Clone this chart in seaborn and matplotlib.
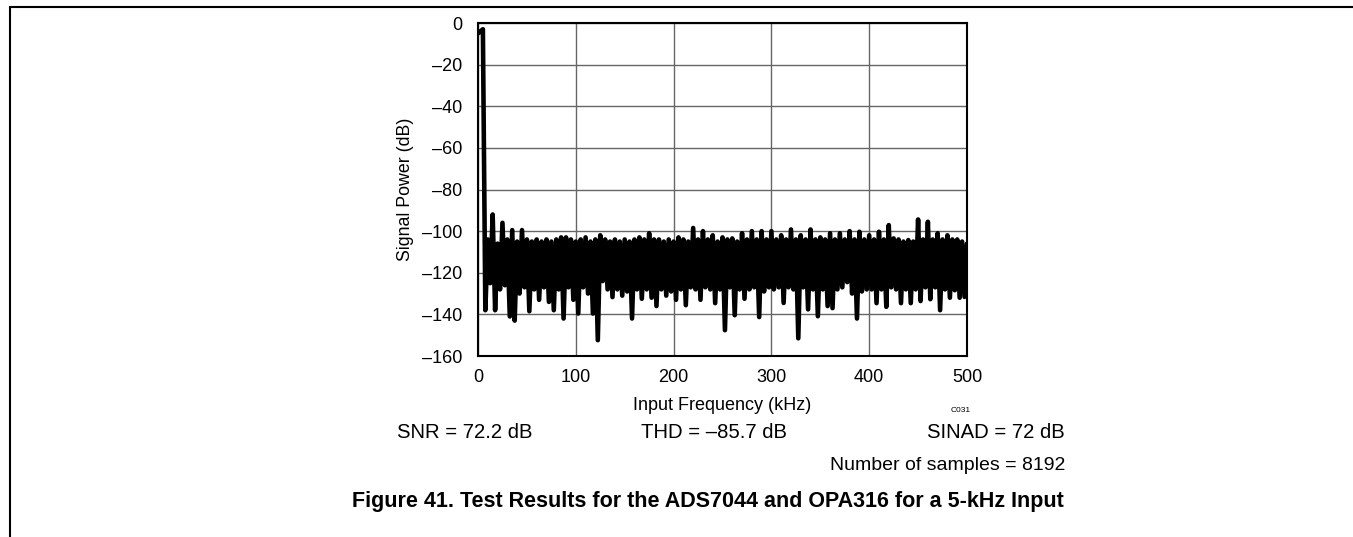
import numpy as np
import pandas as pd
import matplotlib
matplotlib.use('Agg')
import matplotlib.pyplot as plt
from matplotlib.lines import Line2D
import seaborn as sns

# FFT bins, one value every 2.5 kHz (0 ... 500 kHz)
freq_step_khz = 2.5
power_db = [
    -5, -4, -3, -138, -104, -125, -92, -138, -106, -128,
    -96, -126, -104, -141, -99.5, -143, -105, -130, -99.5, -127,
    -104, -138.5, -105, -128, -104, -133, -105, -127, -104, -134,
    -105, -138, -104, -128, -103, -142, -103, -127, -104, -133,
    -105, -139.6, -104, -127, -103, -130, -105, -139.6, -104, -152.4,
    -102, -124, -104, -128, -105, -131.7, -104, -128, -105, -131,
    -104, -129, -105, -142, -104, -128, -103, -132.5, -104, -128,
    -101, -132, -104, -136, -104, -128, -105, -131, -104, -129,
    -105, -133, -103, -128, -104, -135.6, -105, -127, -98.5, -128,
    -104, -133, -100, -127, -104, -128, -102, -134.6, -105, -128,
    -103, -147.6, -104, -127, -103.5, -140.4, -105, -128, -101, -132.5,
    -104, -128, -100, -127, -104, -141.3, -100, -129, -104, -127,
    -100, -128, -104, -127, -102, -134.5, -104, -127, -99.2, -128,
    -104, -151.5, -102, -127, -104, -137.6, -99.2, -128, -104, -140.9,
    -103, -128, -104, -136, -101, -137, -104, -128, -101, -127,
    -104, -124.5, -100, -130, -104, -142, -100.3, -129, -104, -128,
    -102, -128, -104, -134.6, -100.3, -128, -104, -136.4, -97.1, -127,
    -103.5, -128, -104, -134.6, -105, -128, -104.3, -134.6, -105, -128,
    -94.4, -133.6, -104, -127, -95.5, -132.7, -104, -127, -101, -138,
    -104, -128, -102, -132, -104, -128.4, -104, -132, -105, -131.6,
    -106,
]
freq_khz = np.arange(len(power_db)) * freq_step_khz

x_ticks = [0, 100, 200, 300, 400, 500]
y_ticks = [0, -20, -40, -60, -80, -100, -120, -140, -160]

stats_left = 'SNR = 72.2 dB'
stats_mid = 'THD = \u201385.7 dB'
stats_right = 'SINAD = 72 dB'
samples_text = 'Number of samples = 8192'
caption = 'Figure 41. Test Results for the ADS7044 and OPA316 for a 5-kHz Input'

df = pd.DataFrame({'freq': freq_khz, 'power': power_db})

sns.set_theme(style='white')
plt.rcParams['font.family'] = ['Liberation Sans', 'DejaVu Sans']
plt.rcParams['text.color'] = 'black'
plt.rcParams['axes.labelcolor'] = 'black'

W, H = 1353, 537
fig = plt.figure(figsize=(W / 100, H / 100), dpi=100)
ax = fig.add_axes([478 / W, 1 - 356 / H, (967 - 478) / W, (356 - 23) / H])

sns.lineplot(data=df, x='freq', y='power', ax=ax, color='black',
             linewidth=3.3, estimator=None, sort=False, zorder=3)

ax.set_xlim(0, 500)
ax.set_ylim(-160, 0)
ax.set_xticks(x_ticks)
ax.set_yticks(y_ticks)
ax.set_xticklabels([str(v) for v in x_ticks])
ax.set_yticklabels([str(v).replace('-', '\u2013') for v in y_ticks])
ax.tick_params(axis='both', length=0, labelsize=13, colors='black')
ax.tick_params(axis='x', pad=9)
ax.tick_params(axis='y', pad=11)
ax.grid(True, color='#666666', linewidth=1.0, zorder=0)
for s in ax.spines.values():
    s.set_color('black')
    s.set_linewidth(1.5)
    s.set_zorder(4)

ax.set_xlabel('Input Frequency (kHz)', fontsize=13, labelpad=8)
ax.set_ylabel('Signal Power (dB)', fontsize=12.8, labelpad=6)

def fx(px):
    return px / W

def fy(py):
    return 1 - py / H

fig.text(fx(961), fy(410), 'C031', fontsize=6, ha='center', va='center')
fig.text(fx(397), fy(433), stats_left, fontsize=14.6, ha='left', va='center')
fig.text(fx(714), fy(433), stats_mid, fontsize=14.6, ha='center', va='center')
fig.text(fx(1065), fy(433), stats_right, fontsize=14.6, ha='right', va='center')
fig.text(fx(1065), fy(466), samples_text, fontsize=14, ha='right', va='center')
fig.text(fx(708), fy(501), caption, fontsize=15.5, fontweight='bold',
         ha='center', va='center')

# page frame: top rule and left rule
fig.add_artist(Line2D([fx(10), 1], [fy(7), fy(7)], color='black', linewidth=1.5))
fig.add_artist(Line2D([fx(10), fx(10)], [fy(7), 0], color='black', linewidth=1.5))

fig.savefig('out.png', dpi=100)
plt.close(fig)
